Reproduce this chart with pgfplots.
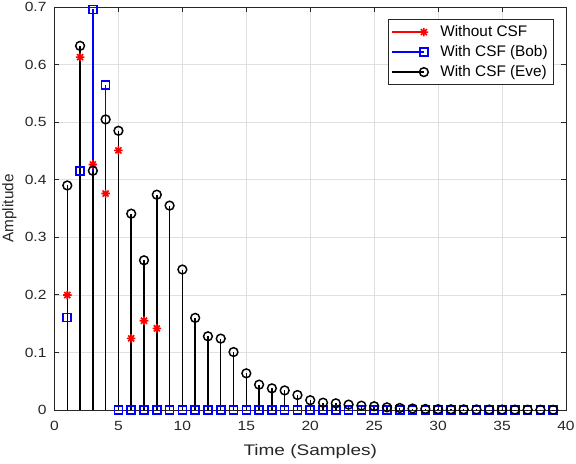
\documentclass[border=0pt]{standalone}
\usepackage{pgfplots}
\pgfplotsset{compat=1.18}
\usepackage{fontspec}
\setmainfont{Liberation Sans}
\usepackage{graphicx}
\definecolor{axgray}{RGB}{38,38,38}
\definecolor{gridgray}{RGB}{223,223,223}
\definecolor{mred}{RGB}{255,0,0}
\definecolor{mblue}{RGB}{0,0,255}
\pgfdeclareplotmark{mstar}{%
 \pgfpathmoveto{\pgfqpoint{-\pgfplotmarksize}{0pt}}\pgfpathlineto{\pgfqpoint{\pgfplotmarksize}{0pt}}%
 \pgfpathmoveto{\pgfqpoint{0pt}{-\pgfplotmarksize}}\pgfpathlineto{\pgfqpoint{0pt}{\pgfplotmarksize}}%
 \pgfpathmoveto{\pgfqpoint{-0.7071\pgfplotmarksize}{-0.7071\pgfplotmarksize}}\pgfpathlineto{\pgfqpoint{0.7071\pgfplotmarksize}{0.7071\pgfplotmarksize}}%
 \pgfpathmoveto{\pgfqpoint{-0.7071\pgfplotmarksize}{0.7071\pgfplotmarksize}}\pgfpathlineto{\pgfqpoint{0.7071\pgfplotmarksize}{-0.7071\pgfplotmarksize}}%
 \pgfusepathqstroke}

\pgfplotstableread{
x y
1 0.1997
2 0.613
3 0.4265
4 0.376
5 0.451
6 0.1244
7 0.155
8 0.1418
}\redtab

\pgfplotstableread{
x y
1 0.161
2 0.4155
3 0.696
4 0.564
5 0
6 0
7 0
8 0
9 0
10 0
11 0
12 0
13 0
14 0
15 0
16 0
17 0
18 0
19 0
20 0
21 0
22 0
23 0
24 0
25 0
26 0
27 0
28 0
29 0
30 0
31 0
32 0
33 0
34 0
35 0
36 0
37 0
38 0
39 0
}\bluetab

\pgfplotstableread{
x y
1 0.390
2 0.6325
3 0.4155
4 0.5047
5 0.485
6 0.341
7 0.260
8 0.374
9 0.355
10 0.244
11 0.160
12 0.128
13 0.124
14 0.1007
15 0.0637
16 0.044
17 0.0376
18 0.034
19 0.026
20 0.017
21 0.0127
22 0.0116
23 0.0093
24 0.0075
25 0.0065
26 0.0046
27 0.0035
28 0.0025
29 0.0018
30 0.0014
31 0.0012
32 0.0010
33 0.0009
34 0.0008
35 0.0007
36 0.0006
37 0.0005
38 0.0004
39 0.0003
}\blacktab

\begin{document}
\begin{tikzpicture}
\path[use as bounding box] (-40.875pt,-40.5pt) rectangle (391.125pt,307.5pt);
\begin{axis}[
 at={(0,0)}, anchor=south west,
 scale only axis, width=383.625pt, height=302.25pt,
 xmin=0, xmax=40, ymin=0, ymax=0.7,
 xtick={0,5,...,40}, ytick={0,0.1,0.2,0.3,0.4,0.5,0.6,0.7},
 grid=major, major grid style={gridgray, line width=0.5pt},
 axis line style={axgray, line width=0.6pt},
 tick style={axgray, line width=0.6pt},
 tick align=inside, major tick length=3.75pt,
 clip=false,
 ticklabel style={font=\fontsize{10}{12}\selectfont, text=axgray},
 xticklabel={\scalebox{1.17}[1]{\pgfmathprintnumber[fixed,precision=1,assume math mode=true]{\tick}}},
 yticklabel={\scalebox{1.17}[1]{\pgfmathprintnumber[fixed,precision=1,assume math mode=true]{\tick}}},
 xticklabel style={yshift=-5pt},
 yticklabel style={xshift=-2.5pt},
 xlabel={\scalebox{1.24}[1]{Time (Samples)}},
 ylabel={Amplitude},
 label style={font=\fontsize{11.5}{13}\selectfont, text=axgray},
 xlabel style={at={(axis description cs:0.5,-0.1042)}, anchor=center},
 ylabel style={at={(axis description cs:-0.088,0.5)}, anchor=center},
 legend style={at={(rel axis cs:0.9765,0.970)}, anchor=north east, draw=axgray, line width=0.5pt, fill=white,
   font=\fontsize{11.5}{13}\selectfont, text=black, inner xsep=2pt, inner ysep=2pt, row sep=0pt,
   nodes={inner xsep=2.5pt, inner ysep=2.5pt, text height=8.5pt, text depth=1.5pt}},
 legend cell align=left,
 legend image code/.code={%
   \draw[#1, sharp plot, mark repeat=2, mark phase=2] plot coordinates {(0pt,0pt) (24pt,0pt)};
   \path (0pt,0pt) (33.25pt,0pt);},
]
\addplot[ycomb, draw=mred, line width=1.1pt, mark=mstar, mark size=3.2pt, mark options={draw=mred, solid, line width=1.2pt}] table[x=x,y=y] {\redtab};
\addlegendentry{Without CSF}
\addplot[ycomb, draw=mblue, line width=1.1pt, mark=square, mark size=3pt, mark options={draw=mblue, solid, line width=1.2pt}] table[x=x,y=y] {\bluetab};
\addlegendentry{With CSF (Bob)}
\addplot[ycomb, draw=black, line width=1.1pt, mark=o, mark size=3.3pt, mark options={draw=black, solid, line width=1.1pt}] table[x=x,y=y] {\blacktab};
\addlegendentry{With CSF (Eve)}
\end{axis}
\end{tikzpicture}
\end{document}
